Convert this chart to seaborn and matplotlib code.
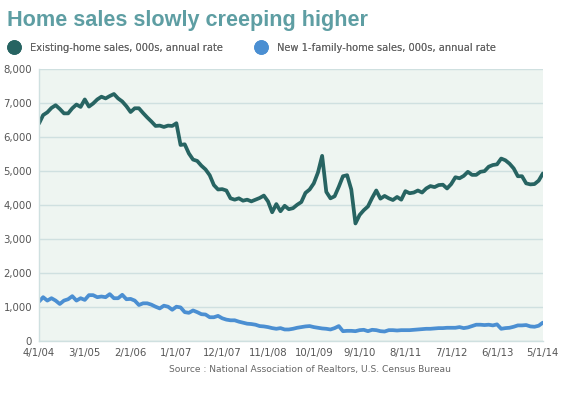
import numpy as np
import pandas as pd
import seaborn as sns
import matplotlib.pyplot as plt
from matplotlib.lines import Line2D

# Monthly data, 4/2004 .. 5/2014 (thousands, seasonally adjusted annual rate)
existing = [6390, 6640, 6720, 6850, 6930, 6820, 6690, 6690, 6840, 6950,
            6880, 7100, 6890, 6980, 7100, 7180, 7130, 7200, 7260, 7130,
            7040, 6900, 6730, 6840, 6840, 6700, 6570, 6450, 6320, 6330,
            6290, 6330, 6320, 6400, 5760, 5780, 5510, 5330, 5290, 5150,
            5040, 4870, 4580, 4450, 4460, 4420, 4190, 4150, 4190, 4120,
            4150, 4100, 4150, 4200, 4270, 4100, 3780, 4020, 3810, 3970,
            3870, 3900, 4000, 4080, 4350, 4450, 4630, 4950, 5440, 4380,
            4190, 4250, 4530, 4840, 4870, 4450, 3450, 3700, 3840, 3950,
            4200, 4420, 4180, 4260, 4190, 4140, 4230, 4150, 4400, 4340,
            4360, 4420, 4360, 4480, 4550, 4520, 4580, 4590, 4480, 4610,
            4810, 4780, 4850, 4970, 4880, 4880, 4970, 4990, 5120, 5170,
            5190, 5360, 5310, 5210, 5070, 4840, 4840, 4630, 4600, 4610,
            4710, 4920]

new_homes = [1150, 1280, 1180, 1250, 1180, 1080, 1180, 1220, 1310, 1180,
             1250, 1200, 1340, 1340, 1280, 1300, 1280, 1370, 1250, 1250,
             1350, 1220, 1230, 1180, 1050, 1100, 1100, 1060, 1000, 950,
             1030, 1000, 910, 1000, 980, 840, 820, 890, 840, 780,
             770, 690, 690, 730, 660, 620, 600, 600, 560, 530,
             500, 490, 470, 430, 420, 400, 370, 350, 370, 330,
             330, 350, 380, 400, 420, 430, 400, 380, 360, 350,
             330, 370, 430, 280, 290, 290, 280, 310, 320, 280,
             320, 310, 280, 270, 310, 310, 300, 310, 310, 310,
             320, 330, 340, 350, 350, 360, 370, 370, 380, 380,
             380, 400, 370, 390, 430, 470, 470, 460, 470, 450,
             480, 350, 370, 380, 410, 450, 450, 460, 420, 410,
             440, 530]

tick_labels = ['4/1/04', '3/1/05', '2/1/06', '1/1/07', '12/1/07', '11/1/08',
               '10/1/09', '9/1/10', '8/1/11', '7/1/12', '6/1/13', '5/1/14']

df = pd.DataFrame({'month': np.arange(len(existing)),
                   'existing': existing,
                   'new': new_homes})

dark = '#276462'
blue = '#4b8fd2'
grey = '#666666'

sns.set_style('white')
plt.rcParams['font.family'] = ['DejaVu Sans']

fig = plt.figure(figsize=(5.69, 3.98), dpi=100)
ax = fig.add_axes([0.0685, 0.144, 0.8855, 0.683])
ax.set_facecolor('#eef5f1')

sns.lineplot(x='month', y='existing', data=df, ax=ax, color=dark, linewidth=2.7)
sns.lineplot(x='month', y='new', data=df, ax=ax, color=blue, linewidth=2.7)

ax.set_xlim(0, len(existing) - 1)
ax.set_ylim(0, 8000)
ax.set_yticks(range(0, 8001, 1000))
ax.set_yticklabels([f'{v:,}' for v in range(0, 8001, 1000)])
ax.set_xticks(range(0, len(existing), 11))
ax.set_xticklabels(tick_labels)
ax.tick_params(axis='both', length=0, labelsize=7.3, colors='#555555')
ax.tick_params(axis='y', pad=5)
ax.tick_params(axis='x', pad=5)
ax.grid(axis='y', color='#cfe0e0', linewidth=1)
ax.set_axisbelow(True)
ax.set_xlabel('')
ax.set_ylabel('')
for s in ['top', 'right']:
    ax.spines[s].set_visible(False)
for s in ['left', 'bottom']:
    ax.spines[s].set_color('#cfe0e0')
    ax.spines[s].set_linewidth(1)

fig.text(0.013, 0.948, 'Home sales slowly creeping higher', fontsize=15.6,
         fontweight='bold', color='#5e9ea3', family='Liberation Sans', va='center')

# legend entries placed by hand (two independent items)
names = ['Existing-home sales, 000s, annual rate',
         'New 1-family-home sales, 000s, annual rate']
for colr, name, x0 in [(dark, names[0], -0.002), (blue, names[1], 0.432)]:
    h = Line2D([], [], marker='o', linestyle='', markersize=9.5, color=colr)
    leg = fig.legend([h], [name], loc='center left', bbox_to_anchor=(x0, 0.88),
                     frameon=False, fontsize=7.1,
                     handletextpad=1.1, handlelength=1.2)
    for t in leg.get_texts():
        t.set_color(grey)
    fig.add_artist(leg)

fig.text(0.545, 0.072, 'Source : National Association of Realtors, U.S. Census Bureau',
         fontsize=6.6, color=grey, ha='center', va='center')

plt.savefig('out.png', dpi=100)
